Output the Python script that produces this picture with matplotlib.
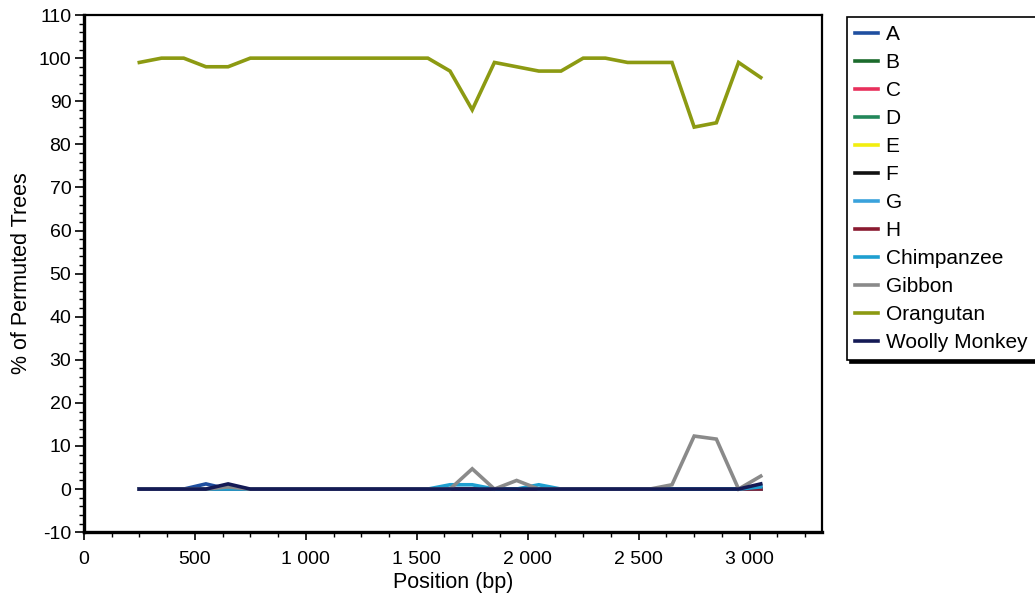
import matplotlib
matplotlib.use("Agg")
import matplotlib.pyplot as plt
from matplotlib.ticker import MultipleLocator, FixedLocator, FixedFormatter

plt.rcParams['font.family'] = ['Liberation Sans', 'DejaVu Sans']
plt.rcParams['axes.unicode_minus'] = False

# positions (bp) of the sliding windows
positions = [250, 350, 450, 550, 650, 750, 850, 950, 1050, 1150, 1250, 1350, 1450, 1550,
             1650, 1750, 1850, 1950, 2050, 2150, 2250, 2350, 2450, 2550, 2650, 2750,
             2850, 2950, 3050]

zeros = [0] * len(positions)
a_vals = [0, 0, 0, 1.2, 0, 0, 0, 0, 0, 0, 0, 0, 0, 0,
          0, 0, 0, 0, 0, 0, 0, 0, 0, 0, 0, 0, 0, 0, 0.5]
chimp = [0, 0, 0, 0, 0, 0, 0, 0, 0, 0, 0, 0, 0, 0,
         1.0, 1.0, 0, 0, 1.0, 0, 0, 0, 0, 0, 0, 0, 0, 0, 0.5]
gibbon = [0, 0, 0, 0, 0.5, 0, 0, 0, 0, 0, 0, 0, 0, 0,
          0, 4.7, 0, 2.0, 0, 0, 0, 0, 0, 0, 1.0, 12.3, 11.6, 0, 3.0]
orangutan = [99, 100, 100, 98, 98, 100, 100, 100, 100, 100, 100, 100, 100, 100,
             97, 88, 99, 98, 97, 97, 100, 100, 99, 99, 99, 84, 85, 99, 95.5]
woolly = [0, 0, 0, 0, 1.2, 0, 0, 0, 0, 0, 0, 0, 0, 0,
          0, 0, 0, 0, 0, 0, 0, 0, 0, 0, 0, 0, 0, 0, 1.2]

series_names = ['A', 'B', 'C', 'D', 'E', 'F', 'G', 'H',
                'Chimpanzee', 'Gibbon', 'Orangutan', 'Woolly Monkey']
series_vals = [a_vals, zeros, zeros, zeros, zeros, zeros, zeros, zeros,
               chimp, gibbon, orangutan, woolly]
series_colors = ['#1f4fa0', '#1b6b2c', '#e8305c', '#22875a', '#f2ee10', '#111111',
                 '#3aa2dc', '#8a1a30', '#1e9fd0', '#8a8a8a', '#8c9a12', '#141a55']

xtick_vals = [0, 500, 1000, 1500, 2000, 2500, 3000]
xtick_labels = ['0', '500', '1 000', '1 500', '2 000', '2 500', '3 000']

fig = plt.figure(figsize=(10.35, 6.02), dpi=100)
ax = fig.add_axes([0.081, 0.116, 0.713, 0.859])

for name, vals, col in zip(series_names, series_vals, series_colors):
    ax.plot(positions, vals, color=col, lw=2.6, label=name, solid_joinstyle='miter')

ax.set_xlim(0, 3325)
ax.set_ylim(-10, 110)
ax.xaxis.set_major_locator(FixedLocator(xtick_vals))
ax.xaxis.set_major_formatter(FixedFormatter(xtick_labels))
ax.xaxis.set_minor_locator(MultipleLocator(125))
ax.yaxis.set_major_locator(MultipleLocator(10))
ax.yaxis.set_minor_locator(MultipleLocator(2))

ax.tick_params(which='major', length=6.5, width=1.2, labelsize=14, pad=2.5, direction='out')
ax.tick_params(which='minor', length=3.5, width=1.0, direction='out')
ax.tick_params(axis='x', which='major', length=5.5, pad=8)

for s in ['left', 'bottom']:
    ax.spines[s].set_linewidth(2.4)
for s in ['top', 'right']:
    ax.spines[s].set_linewidth(1.6)

ax.set_xlabel('Position (bp)', fontsize=15.5, labelpad=3)
ax.set_ylabel('% of Permuted Trees', fontsize=15.5, labelpad=5)

leg = fig.legend(loc='upper left', bbox_to_anchor=(847 / 1035, 1 - 17 / 602),
                 fontsize=15, frameon=True, fancybox=False,
                 shadow={'color': 'black', 'alpha': 1.0},
                 handlelength=1.1, handletextpad=0.35, labelspacing=0.43,
                 borderpad=0.4, borderaxespad=0)
leg.get_frame().set_edgecolor('black')
leg.get_frame().set_linewidth(1.2)
for line in leg.get_lines():
    line.set_linewidth(2.6)

fig.savefig('out.png', dpi=100)
